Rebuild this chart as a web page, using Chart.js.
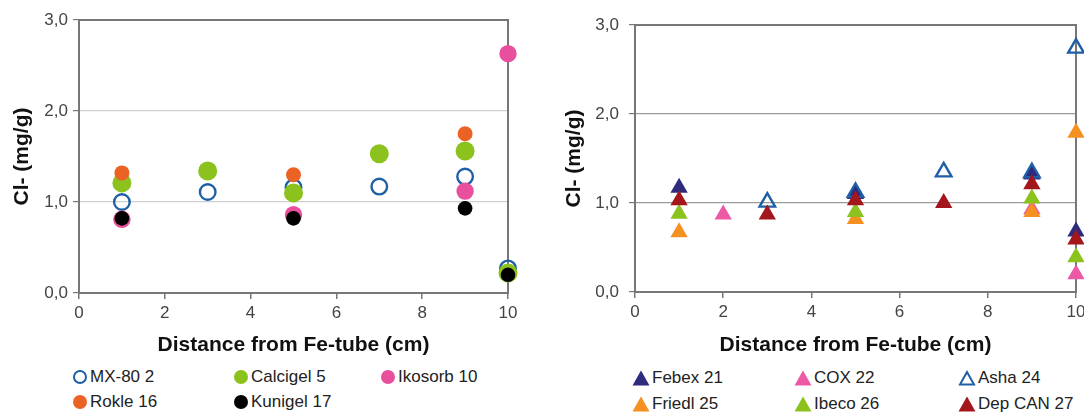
<!DOCTYPE html>
<html>
<head>
<meta charset="utf-8">
<script src="https://cdn.jsdelivr.net/npm/chart.js@4.4.0/dist/chart.umd.min.js"></script>
<style>
html, body { margin:0; padding:0; background:#fff; overflow:hidden; }
#wrap { position:relative; width:1084px; height:412px; overflow:hidden; font-family:"Liberation Sans", Arial, sans-serif; }
#c1 { position:absolute; left:0; top:0; }
#c2 { position:absolute; left:540px; top:0; }
.lg { position:absolute; font-size:17px; color:#222; white-space:nowrap; line-height:20px; }
.lg svg { position:absolute; }
</style>
</head>
<body>
<div id="wrap">
  <canvas id="c1" width="540" height="360"></canvas>
  <canvas id="c2" width="560" height="360"></canvas>
</div>
<script>
// left panel: bentonites, round markers
var leftNames = ['MX-80 2', 'Calcigel 5', 'Ikosorb 10', 'Rokle 16', 'Kunigel 17'];
var mx80     = [[1, 1.00], [3, 1.11], [5, 1.16], [7, 1.17], [9, 1.28], [10, 0.27]];
var calcigel = [[1, 1.21], [3, 1.34], [5, 1.10], [7, 1.53], [9, 1.56], [10, 0.22]];
var ikosorb  = [[1, 0.81], [5, 0.86], [9, 1.12], [10, 2.63]];
var rokle    = [[1, 1.32], [5, 1.30], [9, 1.75]];
var kunigel  = [[1, 0.82], [5, 0.82], [9, 0.93], [10, 0.20]];

// right panel: triangles
var rightNames = ['Febex 21', 'COX 22', 'Asha 24', 'Friedl 25', 'Ibeco 26', 'Dep CAN 27'];
var febex  = [[1, 1.17], [5, 1.10], [9, 1.32], [10, 0.68]];
var cox    = [[2, 0.87], [9, 0.93], [10, 0.20]];
var asha   = [[3, 1.01], [5, 1.12], [7, 1.35], [9, 1.34], [10, 2.74]];
var friedl = [[1, 0.67], [5, 0.82], [9, 0.90], [10, 1.79]];
var ibeco  = [[1, 0.88], [5, 0.90], [9, 1.05], [10, 0.39]];
var depcan = [[1, 1.03], [3, 0.87], [5, 1.03], [7, 1.00], [9, 1.21], [10, 0.59]];

var xTicks = [0, 2, 4, 6, 8, 10];
var yTicks = [0, 1, 2, 3];
var xTitle = 'Distance from Fe-tube (cm)';
var yTitle = 'Cl- (mg/g)';

// styles
var leftStyle = [
  {color: '#1f5fa6', open: true,  r: 7.8},
  {color: '#8cc21e', open: false, r: 9.5},
  {color: '#e84f9c', open: false, r: 8.7},
  {color: '#ea6324', open: false, r: 7.5},
  {color: '#000000', open: false, r: 7.3}
];
var rightStyle = [
  {color: '#2e2b7c', open: false, r: 10},
  {color: '#ec5aa6', open: false, r: 10},
  {color: '#1f5fa6', open: true,  r: 9},
  {color: '#f59121', open: false, r: 10},
  {color: '#8cc21e', open: false, r: 10},
  {color: '#a3161b', open: false, r: 10}
];

function toXY(arr) {
  return arr.map(function(p) { return {x: p[0], y: p[1]}; });
}

function makeSets(series, styles, shape) {
  return series.map(function(s, i) {
    var st = styles[i];
    return {
      data: toXY(s),
      pointStyle: shape,
      pointRadius: st.r,
      pointBackgroundColor: st.open ? 'rgba(255,255,255,0)' : st.color,
      pointBorderColor: st.color,
      pointBorderWidth: st.open ? 2.4 : 0,
      showLine: false,
      clip: false,
      order: -i
    };
  });
}

var frame = {
  id: 'frame',
  beforeDatasetsDraw: function(chart) {
    var a = chart.chartArea, ctx = chart.ctx;
    ctx.save();
    ctx.strokeStyle = '#777';
    ctx.lineWidth = 2;
    ctx.strokeRect(a.left, a.top, a.right - a.left, a.bottom - a.top);
    ctx.restore();
  }
};

function makeChart(id, sets, o) {
  return new Chart(document.getElementById(id), {
    type: 'scatter',
    data: {datasets: sets},
    options: {
      responsive: false,
      animation: false,
      events: [],
      layout: {padding: {top: o.top, right: o.right, left: 0, bottom: 0}},
      plugins: {legend: {display: false}, tooltip: {enabled: false}},
      scales: {
        x: {
          type: 'linear', min: xTicks[0], max: xTicks[xTicks.length - 1],
          afterBuildTicks: function(s) { s.ticks = xTicks.map(function(v) { return {value: v}; }); },
          afterFit: function(s) { s.height = o.xh; },
          border: {display: false},
          grid: {drawOnChartArea: false, tickLength: 6, tickColor: '#777', lineWidth: 1.5},
          ticks: {font: {family: 'Liberation Sans', size: 17}, color: '#444', padding: 4},
          title: {display: true, text: xTitle, color: '#111',
                  font: {family: 'Liberation Sans', size: 21, weight: 'bold'},
                  padding: {top: 0, bottom: 2}}
        },
        y: {
          min: yTicks[0], max: yTicks[yTicks.length - 1],
          afterBuildTicks: function(s) { s.ticks = yTicks.map(function(v) { return {value: v}; }); },
          afterFit: function(s) { s.width = o.yw; },
          border: {display: false},
          grid: {color: o.grid, lineWidth: 1.2, tickLength: 6, tickColor: '#777'},
          ticks: {font: {family: 'Liberation Sans', size: 17}, color: '#444', padding: o.tp,
                  callback: function(v) { return v.toFixed(1).replace('.', ','); }},
          title: {display: true, text: yTitle, color: '#111',
                  font: {family: 'Liberation Sans', size: 21, weight: 'bold'},
                  padding: {top: o.yt, bottom: 0}}
        }
      }
    },
    plugins: [frame]
  });
}

makeChart('c1', makeSets([mx80, calcigel, ikosorb, rokle, kunigel], leftStyle, 'circle'),
  {top: 20, right: 32, xh: 67, yw: 79, tp: 5, yt: 10, grid: '#cfcfcf'});
makeChart('c2', makeSets([febex, cox, asha, friedl, ibeco, depcan], rightStyle, 'triangle'),
  {top: 25, right: 24, xh: 68, yw: 95, tp: 10, yt: 22, grid: '#9a9a9a'});

// html legends
function marker(st, shape) {
  var fill = st.open ? '#fff' : st.color;
  var sw = st.open ? 2 : 0;
  if (shape === 'circle') {
    return '<svg width="16" height="16" style="left:-8px;top:-8px"><circle cx="8" cy="8" r="' +
      (st.open ? 6 : 7) + '" fill="' + fill + '" stroke="' + st.color + '" stroke-width="' + sw + '"/></svg>';
  }
  return '<svg width="18" height="16" style="left:-9px;top:-8px"><polygon points="' +
    (st.open ? '9,2 16,14.5 2,14.5' : '9,0.5 17.5,15.5 0.5,15.5') + '" fill="' + fill +
    '" stroke="' + st.color + '" stroke-width="' + sw + '"/></svg>';
}

function legend(names, styles, shape, cols, rows, gap) {
  var wrap = document.getElementById('wrap');
  names.forEach(function(n, i) {
    var d = document.createElement('div');
    d.className = 'lg';
    d.style.left = cols[i % 3] + 'px';
    d.style.top = rows[Math.floor(i / 3)] + 'px';
    d.innerHTML = marker(styles[i], shape) +
      '<span style="position:absolute;left:' + gap + 'px;top:-10px">' + n + '</span>';
    wrap.appendChild(d);
  });
}

legend(leftNames, leftStyle, 'circle', [80, 241, 388], [377, 402], 10);
legend(rightNames, rightStyle, 'triangle', [641, 803, 967], [378, 404], 11);
</script>
</body>
</html>
